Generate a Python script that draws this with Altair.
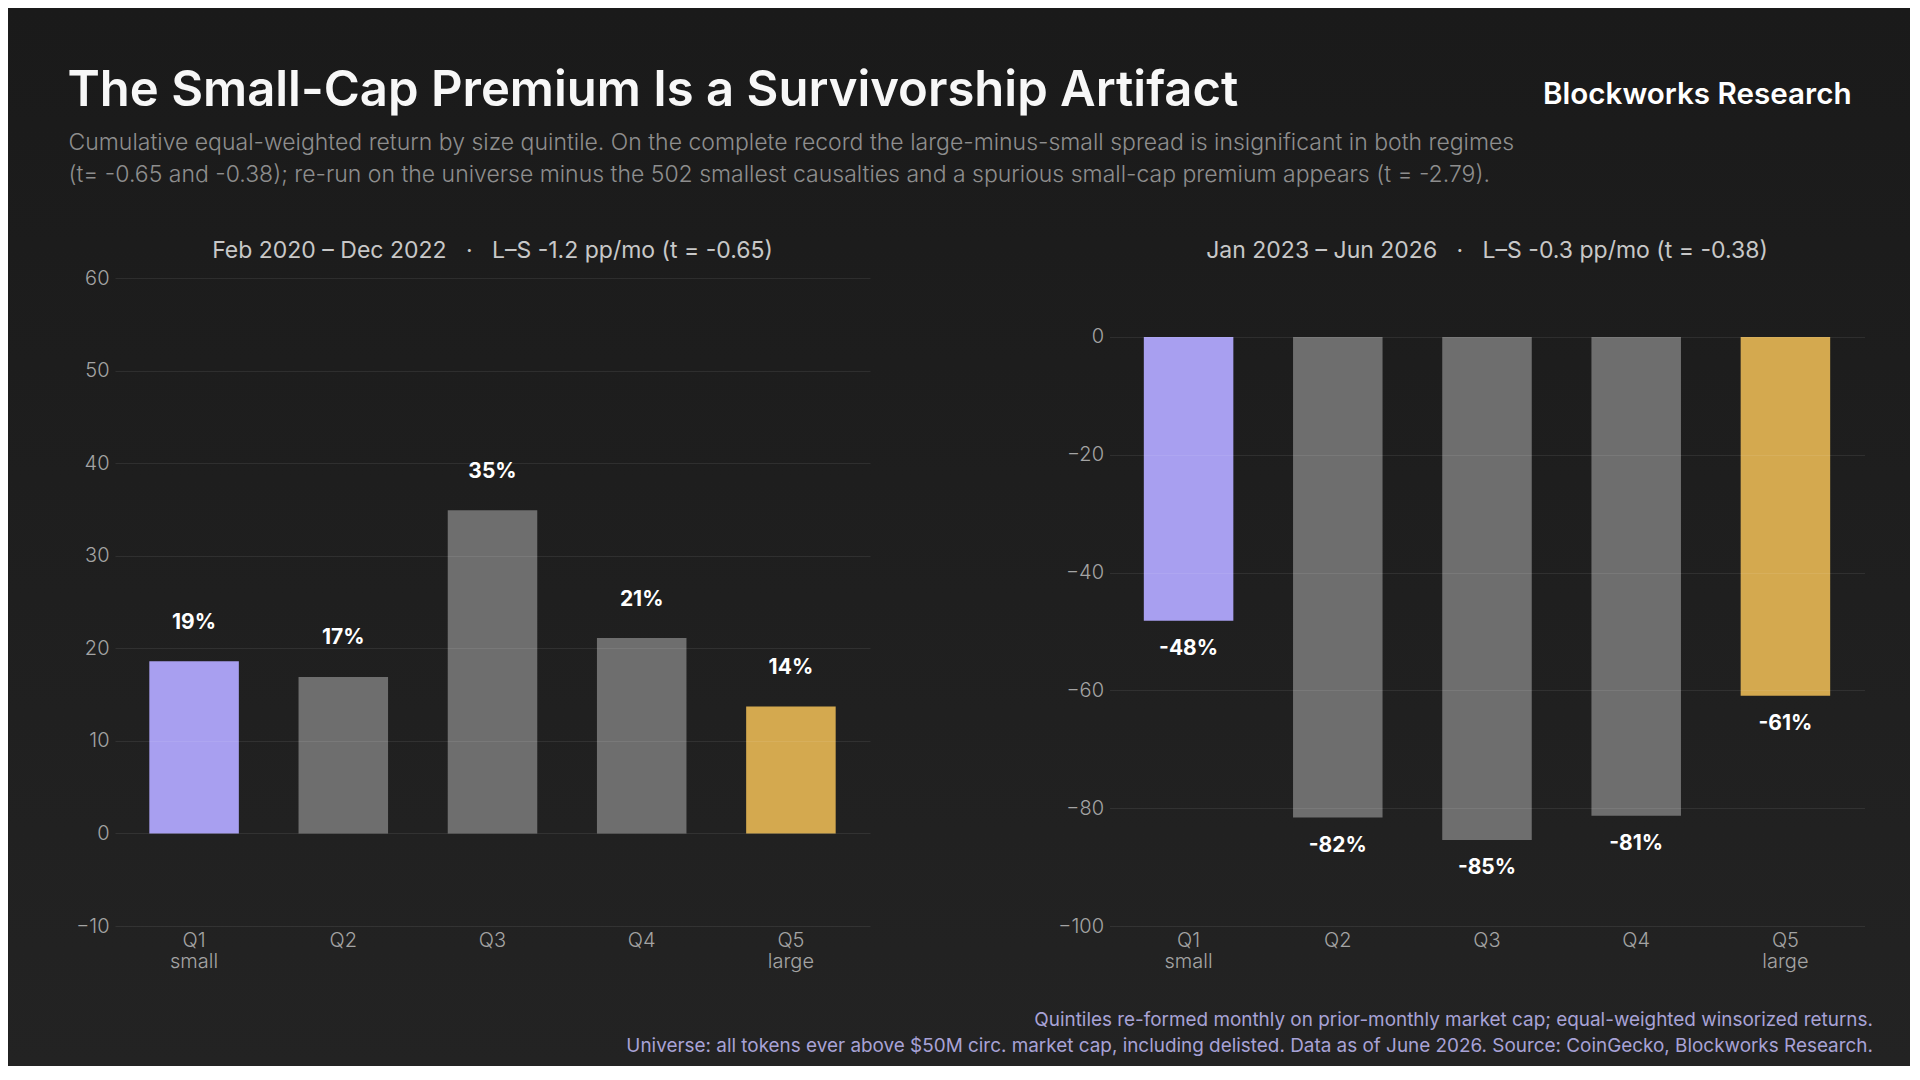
import altair as alt
import pandas as pd

# size quintiles, smallest to largest
quintiles = ["Q1", "Q2", "Q3", "Q4", "Q5"]
size_words = ["small", "", "", "", "large"]
bar_colors = ["#a89ff0", "#6e6e6e", "#6e6e6e", "#6e6e6e", "#d4a94f"]

# cumulative equal-weighted return, %
early_returns = [18.6, 16.9, 34.9, 21.1, 13.7]
late_returns = [-48.2, -81.6, -85.4, -81.3, -60.9]

early_ticks = [-10, 0, 10, 20, 30, 40, 50, 60]
late_ticks = [-100, -80, -60, -40, -20, 0]

SP = "\u00a0" * 3
early_title = f"Feb 2020 \u2013 Dec 2022{SP}\u00b7{SP}L\u2013S -1.2 pp/mo (t = -0.65)"
late_title = f"Jan 2023 \u2013 Jun 2026{SP}\u00b7{SP}L\u2013S -0.3 pp/mo (t = -0.38)"

headline = "The Small-Cap Premium Is a Survivorship Artifact"
subtitle = [
    "Cumulative equal-weighted return by size quintile. On the complete record the "
    "large-minus-small spread is insignificant in both regimes",
    "(t= -0.65 and -0.38); re-run on the universe minus the 502 smallest causalties "
    "and a spurious small-cap premium appears (t = -2.79).",
]
brand = "Blockworks Research"
footer = [
    "Quintiles re-formed monthly on prior-monthly market cap; equal-weighted winsorized returns.",
    "Universe: all tokens ever above $50M circ. market cap, including delisted. "
    "Data as of June 2026. Source: CoinGecko, Blockworks Research.",
]

W, H = 755, 648
FONT = "Inter"

label_expr = " : ".join(
    f"datum.value == '{q}' ? ['{q}', '{w}']" for q, w in zip(quintiles, size_words) if w
) + " : datum.value"


def note(text, x, y, size, color, weight=400, align="left", line_height=None):
    props = dict(align=align, baseline="alphabetic", fontSize=size, color=color,
                 fontWeight=weight, font=FONT)
    if line_height:
        props["lineHeight"] = line_height
    return alt.Chart(pd.DataFrame({"n": [0]})).mark_text(**props).encode(
        x=alt.value(x), y=alt.value(y), text=alt.value(text))


def panel(values, domain, ticks, title, label_dy, before=(), after=()):
    df = pd.DataFrame({
        "quintile": quintiles,
        "ret": values,
        "colour": bar_colors,
        "label": [f"{round(v)}%" for v in values],
    })
    x = alt.X("quintile:N", sort=quintiles, title=None,
              scale=alt.Scale(paddingInner=0.4, paddingOuter=0.23),
              axis=alt.Axis(labelAngle=0, labelExpr=label_expr, labelPadding=4,
                            labelLineHeight=21, grid=False, zindex=1))
    y = alt.Y("ret:Q", title=None,
              scale=alt.Scale(domain=domain, nice=False, zero=True),
              axis=alt.Axis(values=ticks, labelPadding=6, grid=True, zindex=1))

    bars = alt.Chart(df).mark_bar().encode(
        x=x, y=y, color=alt.Color("colour:N", scale=None))
    labels = alt.Chart(df).mark_text(
        baseline="middle", dy=label_dy, fontSize=21, fontWeight=700,
        color="#ffffff", font=FONT
    ).encode(x=x, y=alt.Y("ret:Q"), text="label:N")
    head = note(title, W / 2, -19.7, 23, "#c8c8c8", weight=400, align="center")

    return alt.layer(*before, bars, labels, head, *after).properties(width=W, height=H)


backdrop = alt.Chart(pd.DataFrame({"n": [0]})).mark_rect(
    fill=alt.LinearGradient(
        gradient="linear",
        stops=[alt.GradientStop(offset=0, color="#1a1a1a"),
               alt.GradientStop(offset=1, color="#232323")],
        x1=0, x2=0, y1=0, y2=1,
    )
).encode(x=alt.value(-106.5), x2=alt.value(1795), y=alt.value(-269.7), y2=alt.value(788))

left = panel(
    early_returns, [-10, 60], early_ticks, early_title, -38.6,
    before=[backdrop],
    after=[
        note(headline, -47.5, -171.7, 49, "#f7f7f7", weight=600),
        note(subtitle, -46.5, -127.7, 23, "#8e8e8e", weight=300, line_height=31.5),
        note(brand, 1736.5, -174.4, 29.6, "#ffffff", weight=600, align="right"),
    ],
)
right = panel(
    late_returns, [-100, 10], late_ticks, late_title, 28,
    after=[note(footer, 763.4, 748.1, 18.9, "#a8a2d6", weight=400, align="right",
                line_height=25.7)],
)

chart = alt.hconcat(left, right, spacing=239.5, bounds="flush").properties(
    padding=0, background="#1e1e1e"
).configure_view(
    strokeWidth=0
).configure_axis(
    labelFont=FONT,
    labelFontSize=20,
    labelFontWeight=300,
    labelColor="#a4a4a4",
    gridColor="#ffffff",
    gridOpacity=0.08,
    domain=False,
    ticks=False,
)

chart.save("out.html", embed_options={"renderer": "svg", "actions": False})
